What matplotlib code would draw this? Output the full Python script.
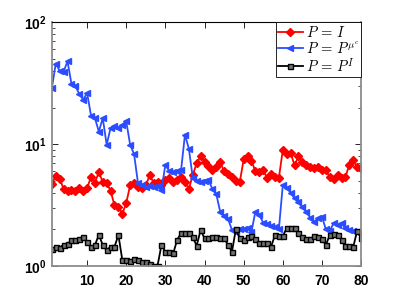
import numpy as np
import matplotlib
matplotlib.use('Agg')
import matplotlib.pyplot as plt
from matplotlib.ticker import LogLocator, NullFormatter

plt.rcParams['mathtext.fontset'] = 'cm'
FONT = 'Liberation Sans'

# values
x = np.arange(1, 81)

red = [4.7, 5.5, 5.2, 4.3, 4.15, 4.25, 4.15, 4.35, 4.1, 4.35,
       5.4, 4.85, 5.9, 4.9, 4.8, 4.15, 3.15, 3.05, 2.68, 3.3,
       4.6, 4.8, 4.5, 4.35, 4.6, 5.6, 4.8, 4.9, 4.6, 5.1,
       5.3, 4.9, 5.1, 5.4, 4.9, 4.3, 5.6, 7.0, 8.0, 7.2,
       6.6, 6.2, 6.5, 7.1, 6.0, 5.7, 5.4, 5.0, 4.9, 7.5,
       8.0, 7.3, 6.0, 5.9, 6.1, 5.3, 5.7, 5.4, 5.3, 9.0,
       8.3, 8.5, 6.7, 8.0, 7.1, 6.7, 6.5, 6.4, 6.5, 6.2,
       6.1, 5.4, 5.2, 5.6, 5.3, 5.4, 6.8, 7.4, 6.5, 6.35]

blue = [29, 46, 40, 39.5, 48, 31.3, 30, 25.9, 23.2, 26.4,
        17.2, 16.4, 12.7, 16.4, 9.9, 13.6, 14.0, 13.7, 14.5, 15.4,
        9.9, 8.3, 4.8, 4.6, 4.5, 4.55, 4.5, 4.55, 4.2, 6.8,
        6.0, 5.9, 6.0, 6.1, 12.0, 9.2, 5.3, 5.0, 4.9, 5.0,
        5.1, 4.3, 3.9, 2.8, 2.6, 2.45, 1.98, 1.92, 2.0, 2.0,
        2.04, 1.92, 2.8, 2.63, 2.27, 2.22, 2.15, 2.08, 2.02, 4.64,
        4.4, 4.0, 3.6, 3.35, 3.05, 2.8, 2.5, 2.3, 2.47, 2.55,
        2.0, 1.95, 2.25, 2.17, 2.25, 2.04, 1.98, 1.95, 1.92, 1.86]

black = [1.37, 1.44, 1.42, 1.5, 1.51, 1.64, 1.64, 1.66, 1.74, 1.58,
         1.44, 1.49, 1.8, 1.49, 1.35, 1.44, 1.44, 1.8, 1.12, 1.12,
         1.1, 1.14, 1.12, 1.08, 1.08, 1.04, 1.01, 1.01, 1.49, 1.31,
         1.31, 1.27, 1.64, 1.86, 1.86, 1.86, 1.72, 1.47, 1.98, 1.69,
         1.69, 1.72, 1.72, 1.69, 1.69, 1.49, 1.31, 2.0, 1.69, 1.64,
         1.72, 1.77, 1.66, 1.54, 1.54, 1.54, 1.44, 1.8, 1.77, 1.77,
         2.04, 2.04, 2.04, 1.88, 1.72, 1.66, 1.66, 1.77, 1.72, 1.66,
         1.49, 1.8, 1.83, 1.8, 1.64, 1.46, 1.46, 1.44, 1.95, 1.69]

labels = ['$P\\,=\\,I$', '$P\\,=\\,P^{\\mu^c}$', '$P\\,=\\,P^I$']

fig = plt.figure(figsize=(3.99, 2.99), dpi=100)
ax = fig.add_axes([0.13, 0.11, 0.775, 0.815])

ax.plot(x, red, '-', color='#ff0000', lw=1.3, marker='D', ms=3.6,
        mfc='#ff0000', mec='#ff0000', label=labels[0])
ax.plot(x, blue, '-', color='#2a4dff', lw=1.3, marker='<', ms=4.8,
        mfc='#2a4dff', mec='#2a4dff', label=labels[1])
ax.plot(x, black, '-', color='k', lw=1.3, marker='s', ms=3.6,
        mfc='0.45', mec='k', mew=1.0, label=labels[2])

ax.set_yscale('log')
ax.set_xlim(1, 80)
ax.set_ylim(1, 100)
ax.set_xticks([10, 20, 30, 40, 50, 60, 70, 80])
ax.yaxis.set_minor_locator(LogLocator(base=10, subs=np.arange(2, 10)))
ax.yaxis.set_minor_formatter(NullFormatter())

ax.tick_params(which='both', direction='in', top=True, right=True)
ax.tick_params(which='major', length=4, width=0.6)
ax.tick_params(which='minor', length=2, width=0.5)
ax.tick_params(axis='x', pad=6)

for lab in ax.get_xticklabels() + ax.get_yticklabels():
    lab.set_fontname(FONT)
    lab.set_fontweight('bold')
    lab.set_fontsize(10)

for s in ['left', 'right', 'bottom']:
    ax.spines[s].set_color('0.55')
    ax.spines[s].set_linewidth(1.3)
ax.spines['top'].set_color('k')
ax.spines['top'].set_linewidth(0.8)

leg = ax.legend(loc='upper right', fontsize=10.5, handlelength=1.7,
                labelspacing=0.0, borderpad=0.15, handletextpad=0.2,
                borderaxespad=0.0, fancybox=False, framealpha=1)
leg.get_frame().set_edgecolor('k')
leg.get_frame().set_linewidth(0.6)

fig.savefig('out.png', dpi=100)
